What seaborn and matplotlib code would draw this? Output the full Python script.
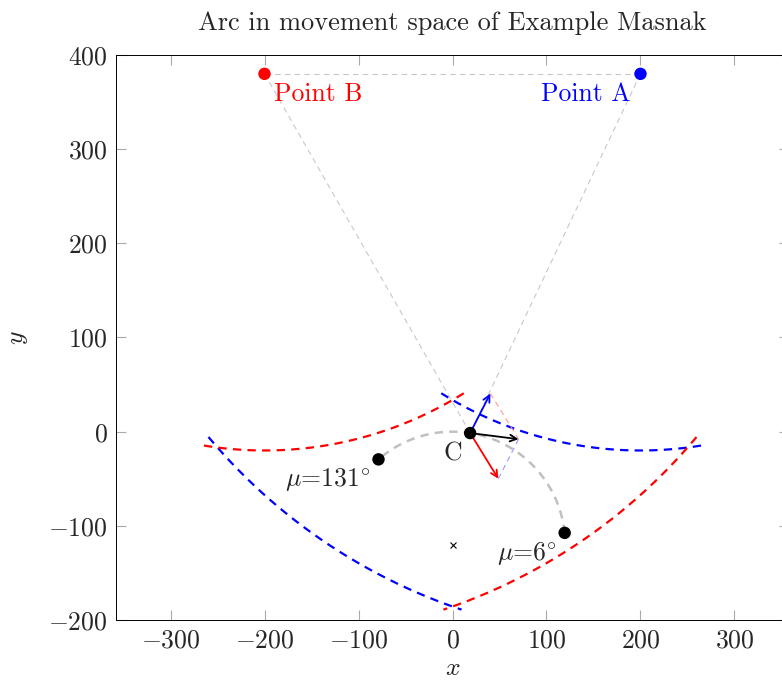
import numpy as np
import pandas as pd
import seaborn as sns
import matplotlib.pyplot as plt

# points and arm lengths
point_a = (200, 380)
point_b = (-200, 380)
arm_radii = [400, 600]

# angle ranges (deg) of the reach arcs around A and B
arcs_a = [(-122, -80), (-140, -108.5)]
arcs_b = [(-58, -100), (-40, -71.5)]

# arc of movement
arc_center = (0, -120)
arc_radius = 120
mu_start, mu_end = 6, 131
c_angle = 81

# velocity parts at C
vec_a = (21.5, 42)
vec_b = (30, -48.5)

sns.set_theme(style="ticks")
plt.rcParams["font.family"] = ["cmr10", "DejaVu Serif"]
plt.rcParams["mathtext.fontset"] = "cm"
plt.rcParams["axes.formatter.use_mathtext"] = True
plt.rcParams["lines.scale_dashes"] = False


def arc_frame(cx, cy, r, a0, a1, n=200):
    t = np.radians(np.linspace(a0, a1, n))
    return pd.DataFrame({"x": cx + r * np.cos(t), "y": cy + r * np.sin(t)})


def polar(cx, cy, r, a):
    t = np.radians(a)
    return cx + r * np.cos(t), cy + r * np.sin(t)


fig = plt.figure(figsize=(7.82, 6.84), dpi=100)
ax = fig.add_axes([116 / 782, 64 / 684, 673 / 782, 565 / 684])

dash = (0, (6, 4.5))
thin_dash = (0, (4, 3))

# reach arcs
for r, (a0, a1) in zip(arm_radii, arcs_a):
    d = arc_frame(*point_a, r, a0, a1)
    sns.lineplot(data=d, x="x", y="y", sort=False, ax=ax, color="blue", lw=1.6, linestyle=dash)
for r, (a0, a1) in zip(arm_radii, arcs_b):
    d = arc_frame(*point_b, r, a0, a1)
    sns.lineplot(data=d, x="x", y="y", sort=False, ax=ax, color="red", lw=1.6, linestyle=dash)

# movement arc
d = arc_frame(*arc_center, arc_radius, mu_start, mu_end)
sns.lineplot(data=d, x="x", y="y", sort=False, ax=ax, color="#c0c0c0", lw=1.8, linestyle=dash)

c = polar(*arc_center, arc_radius, c_angle)
p_start = polar(*arc_center, arc_radius, mu_start)
p_end = polar(*arc_center, arc_radius, mu_end)

# construction lines
for p, q in [(point_b, point_a), (point_b, c), (point_a, c)]:
    ax.plot([p[0], q[0]], [p[1], q[1]], color="#c8c8c8", lw=0.8, linestyle=thin_dash)

tip_a = (c[0] + vec_a[0], c[1] + vec_a[1])
tip_b = (c[0] + vec_b[0], c[1] + vec_b[1])
tip = (c[0] + vec_a[0] + vec_b[0], c[1] + vec_a[1] + vec_b[1])
ax.plot([tip_a[0], tip[0]], [tip_a[1], tip[1]], color="#ff9999", lw=0.8, linestyle=thin_dash)
ax.plot([tip_b[0], tip[0]], [tip_b[1], tip[1]], color="#9999ff", lw=0.8, linestyle=thin_dash)

for end, col in [(tip_a, "blue"), (tip_b, "red"), (tip, "black")]:
    ax.annotate("", xy=end, xytext=c,
                arrowprops=dict(arrowstyle="->", color=col, lw=1.3,
                                shrinkA=0, shrinkB=0, mutation_scale=12))

# points
pts = pd.DataFrame({"x": [point_a[0], point_b[0]], "y": [point_a[1], point_b[1]],
                    "who": ["A", "B"]})
sns.scatterplot(data=pts, x="x", y="y", hue="who", palette={"A": "blue", "B": "red"},
                s=80, edgecolor="none", legend=False, ax=ax, zorder=5)
dots = pd.DataFrame({"x": [c[0], p_start[0], p_end[0]], "y": [c[1], p_start[1], p_end[1]]})
sns.scatterplot(data=dots, x="x", y="y", color="black", s=80, edgecolor="none",
                legend=False, ax=ax, zorder=5)
ax.plot(*arc_center, marker="x", color="black", ms=5, mew=0.8)

# labels
fs = 18.5
ax.annotate("Point B", point_b, xytext=(7, -6), textcoords="offset points",
            ha="left", va="top", color="red", fontsize=fs)
ax.annotate("Point A", point_a, xytext=(-7, -6), textcoords="offset points",
            ha="right", va="top", color="blue", fontsize=fs)
ax.annotate("C", c, xytext=(-6, -6), textcoords="offset points",
            ha="right", va="top", fontsize=fs)
ax.annotate(r"$\mu$=%d$^{\circ}$" % mu_end, p_end, xytext=(-6, -5), textcoords="offset points",
            ha="right", va="top", fontsize=fs)
ax.annotate(r"$\mu$=%d$^{\circ}$" % mu_start, p_start, xytext=(-6, -5), textcoords="offset points",
            ha="right", va="top", fontsize=fs)

ax.set_xlim(-358, 358)
ax.set_ylim(-200, 400)
ax.set_xticks([-300, -200, -100, 0, 100, 200, 300])
ax.set_yticks([-200, -100, 0, 100, 200, 300, 400])
ax.tick_params(direction="in", top=True, right=True, length=7.5, width=0.8,
               color="#aaaaaa", labelsize=fs, pad=6)
for s in ax.spines.values():
    s.set_color("black")
    s.set_linewidth(0.7)

ax.set_xlabel("$x$", fontsize=fs, labelpad=3)
ax.set_ylabel("$y$", fontsize=fs, labelpad=13)
ax.set_title("Arc in movement space of Example Masnak", fontsize=19, pad=18)

fig.savefig("out.png", dpi=100)
